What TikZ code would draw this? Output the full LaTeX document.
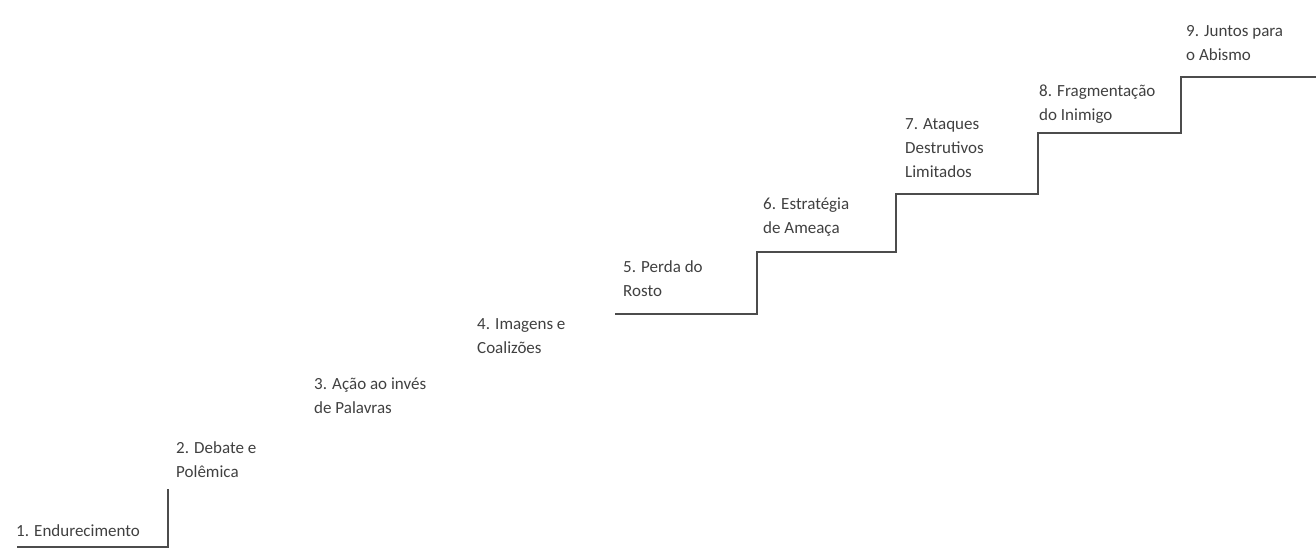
\documentclass[tikz,border=0pt]{standalone}
\usepackage{fontspec}
\setmainfont{Carlito}
\usetikzlibrary{positioning}
\tikzstyle{stage} = [anchor=north west, inner sep=0, align=left, text=black!75, font=\fontsize{17}{24}\selectfont]
\tikzstyle{stair} = [draw=black!70, line width=2.6pt]

\begin{document}
\begin{tikzpicture}[x=1pt,y=-1pt]
\useasboundingbox (0,0) rectangle (1316,550);

\node[stage] (hard) at (16,524) {1. Endurecimento};
\node[stage] (debate) at (176,441) {2. Debate e\\Polêmica};
\node[stage] (action) at (314,378) {3. Ação ao invés\\de Palavras};
\node[stage] (images) at (477,318) {4. Imagens e\\Coalizões};
\node[stage] (face) at (623,260) {5. Perda do\\Rosto};
\node[stage] (threat) at (763,198) {6. Estratégia\\de Ameaça};
\node[stage] (attack) at (905,118) {7. Ataques\\Destrutivos\\Limitados};
\node[stage] (frag) at (1039,85) {8. Fragmentação\\do Inimigo};
\node[stage] (abyss) at (1186,25) {9. Juntos para\\o Abismo};

% lower stair
\coordinate (low_a) at (17,547);
\coordinate (low_b) at (168,547);
\coordinate (low_c) at (168,489);
\draw[stair] (low_a) -- (low_b) -- (low_c);

% upper stairs
\coordinate (up5) at (615,314);
\coordinate (up6) at (757,252);
\coordinate (up7) at (896,194);
\coordinate (up8) at (1038,133);
\coordinate (up9) at (1181,77);
\coordinate (up_end) at (1316,77);
\draw[stair] (up5) -| (up6) -| (up7) -| (up8) -| (up9) -- (up_end);

\end{tikzpicture}
\end{document}
